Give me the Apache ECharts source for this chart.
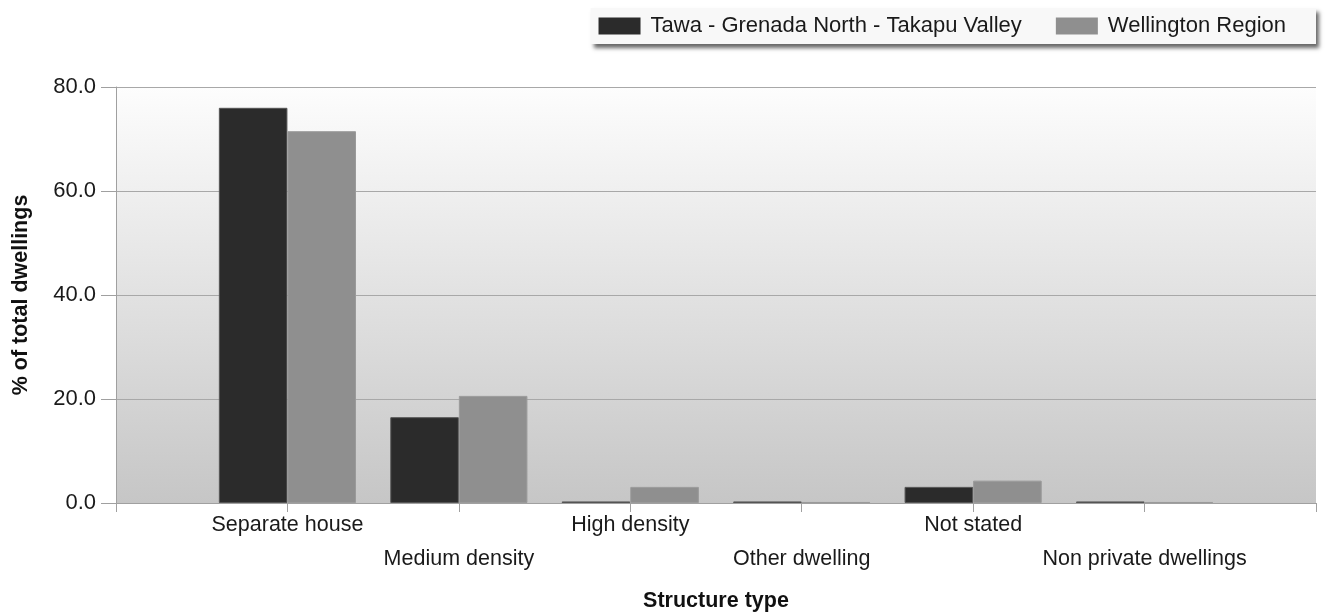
<!DOCTYPE html>
<html>
<head>
<meta charset="utf-8">
<script src="https://cdn.jsdelivr.net/npm/echarts@6/dist/echarts.min.js"></script>
<style>
html,body{margin:0;padding:0;background:#fff;}
#chart{width:1326px;height:614px;}
</style>
</head>
<body>
<div id="chart"></div>
<script>
var categories = ['Separate house', 'Medium density', 'High density', 'Other dwelling', 'Not stated', 'Non private dwellings'];
var seriesNames = ['Tawa - Grenada North - Takapu Valley', 'Wellington Region'];
var tawaValues = [76.0, 16.5, 0.3, 0.3, 3.1, 0.3];
var wellingtonValues = [71.5, 20.6, 3.1, 0.2, 4.3, 0.2];
var yTicks = [0, 20, 40, 60, 80];

var FONT = "'Liberation Sans', Arial, sans-serif";
// pad the category axis with empty slots at both ends so groups sit on ticks
var axisCats = [''].concat(categories).concat(['']);
function pad(arr){ return [null].concat(arr).concat([null]); }

var chart = echarts.init(document.getElementById('chart'));
chart.setOption({
  animation: false,
  textStyle: { fontFamily: FONT },
  legend: {
    top: 8,
    right: 10,
    padding: [7, 30, 7, 8],
    itemWidth: 42,
    itemHeight: 17,
    itemGap: 34,
    backgroundColor: '#f8f8f8',
    shadowColor: 'rgba(0,0,0,0.6)',
    shadowBlur: 4,
    shadowOffsetX: 3,
    shadowOffsetY: 4,
    itemStyle: { borderWidth: 0 },
    textStyle: { fontSize: 22, color: '#1a1a1a', fontFamily: FONT, padding: [0, 0, 0, 5] },
    icon: 'rect',
    data: seriesNames
  },
  grid: {
    left: 116, right: 10, top: 87, bottom: 111,
    containLabel: false,
    outerBoundsMode: 'none',
    show: true,
    borderWidth: 0,
    backgroundColor: new echarts.graphic.LinearGradient(0, 0, 0, 1, [
      { offset: 0, color: '#fdfdfd' },
      { offset: 1, color: '#c6c6c6' }
    ])
  },
  xAxis: {
    type: 'category',
    data: axisCats,
    boundaryGap: false,
    name: 'Structure type',
    nameLocation: 'middle',
    nameGap: 87,
    nameTextStyle: { fontSize: 21.5, fontWeight: 'bold', color: '#111', fontFamily: FONT },
    axisLine: { show: true, lineStyle: { color: '#a0a0a0', width: 1 } },
    axisTick: { show: true, interval: 0, length: 9, lineStyle: { color: '#a0a0a0' } },
    axisLabel: {
      interval: 0,
      margin: 5,
      fontSize: 21.5,
      lineHeight: 34,
      color: '#1a1a1a',
      fontFamily: FONT,
      formatter: function (v, i) { return (i % 2 === 0 && v) ? '\n' + v : v; }
    },
    splitLine: { show: false }
  },
  yAxis: {
    type: 'value',
    min: 0, max: 80, interval: 20,
    name: '% of total dwellings',
    nameLocation: 'middle',
    nameGap: 84,
    nameTextStyle: { fontSize: 21.5, fontWeight: 'bold', color: '#111', fontFamily: FONT },
    axisLine: { show: true, lineStyle: { color: '#a0a0a0', width: 1 } },
    axisTick: { show: true, length: 15, lineStyle: { color: '#a0a0a0' } },
    axisLabel: {
      margin: 20,
      fontSize: 22,
      color: '#1a1a1a',
      fontFamily: FONT,
      formatter: function (v) { return yTicks.indexOf(v) >= 0 ? v.toFixed(1) : ''; }
    },
    splitLine: { show: true, lineStyle: { color: '#a8a8a8', width: 1 } }
  },
  series: [
    {
      name: seriesNames[0],
      type: 'bar',
      data: pad(tawaValues),
      barGap: '0%',
      barCategoryGap: '20%',
      itemStyle: { color: '#2b2b2b', borderColor: '#555555', borderWidth: 1 }
    },
    {
      name: seriesNames[1],
      type: 'bar',
      data: pad(wellingtonValues),
      barGap: '0%',
      barCategoryGap: '20%',
      itemStyle: { color: '#8f8f8f', borderColor: '#9a9a9a', borderWidth: 1 }
    }
  ]
});
</script>
</body>
</html>
